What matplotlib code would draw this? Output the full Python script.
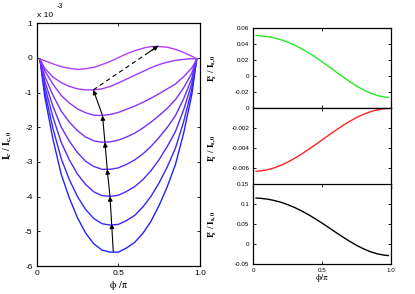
import numpy as np
import matplotlib
matplotlib.use("Agg")
import matplotlib.pyplot as plt
from matplotlib.colors import to_rgb

plt.rcParams['font.family'] = ['Liberation Sans', 'DejaVu Sans']
plt.rcParams['mathtext.fontset'] = 'stix'

# phase phi/pi where the curves are sampled
phi = [0.02, 0.05, 0.10, 0.15, 0.20, 0.25, 0.30, 0.35, 0.40, 0.45, 0.50,
       0.55, 0.60, 0.65, 0.70, 0.75, 0.80, 0.85, 0.90, 0.95, 0.98]

# charge current I_c / I_c,0 (units of 1e-3), from deepest to flattest curve
ic_1 = [-0.04, -1.13, -2.35, -3.35, -4.04, -4.61, -5.05, -5.36, -5.54, -5.60, -5.60,
        -5.48, -5.32, -5.06, -4.71, -4.25, -3.71, -3.07, -2.17, -1.06, -0.04]
ic_2 = [-0.04, -0.98, -2.04, -2.90, -3.51, -4.00, -4.37, -4.63, -4.78, -4.82, -4.80,
        -4.69, -4.54, -4.30, -3.99, -3.60, -3.14, -2.60, -1.84, -0.91, -0.04]
ic_3 = [-0.04, -0.83, -1.71, -2.43, -2.94, -3.35, -3.65, -3.86, -3.97, -3.99, -3.96,
        -3.85, -3.71, -3.51, -3.25, -2.93, -2.55, -2.12, -1.50, -0.74, -0.04]
ic_4 = [-0.04, -0.68, -1.40, -1.99, -2.40, -2.73, -2.98, -3.13, -3.21, -3.21, -3.17,
        -3.07, -2.94, -2.77, -2.55, -2.29, -2.00, -1.66, -1.18, -0.59, -0.04]
ic_5 = [-0.04, -0.53, -1.08, -1.53, -1.85, -2.10, -2.28, -2.39, -2.43, -2.42, -2.37,
        -2.28, -2.17, -2.02, -1.85, -1.66, -1.45, -1.20, -0.86, -0.44, -0.04]
ic_6 = [-0.04, -0.37, -0.76, -1.08, -1.30, -1.47, -1.58, -1.65, -1.66, -1.63, -1.57,
        -1.48, -1.39, -1.28, -1.16, -1.03, -0.89, -0.75, -0.54, -0.29, -0.04]
ic_7 = [-0.04, -0.30, -0.55, -0.71, -0.82, -0.89, -0.92, -0.92, -0.89, -0.82, -0.72,
        -0.61, -0.50, -0.39, -0.28, -0.19, -0.12, -0.07, -0.04, -0.02, -0.03]
ic_8 = [-0.03, -0.08, -0.17, -0.25, -0.30, -0.33, -0.31, -0.27, -0.19, -0.10, 0.01,
        0.12, 0.21, 0.28, 0.33, 0.33, 0.31, 0.25, 0.16, 0.05, -0.02]
ic_curves = [ic_1, ic_2, ic_3, ic_4, ic_5, ic_6, ic_7, ic_8]

# minima followed by the arrows (solid), then the dashed one to the last maximum
arrow_x = [0.469, 0.459, 0.449, 0.432, 0.418, 0.403, 0.347]
arrow_y = [-5.58, -4.78, -3.99, -3.21, -2.43, -1.66, -0.92]
dash_end = (0.745, 0.35)

# spin current components I_s / I_s,0
isx = [0.0505, 0.0502, 0.0492, 0.0475, 0.0452, 0.0421, 0.0384, 0.0340, 0.0290, 0.0235, 0.0176,
       0.0114, 0.0051, -0.0012, -0.0072, -0.0127, -0.0175, -0.0215, -0.0245, -0.0263, -0.0269]
isy = [-0.00629, -0.00626, -0.00615, -0.00596, -0.00570, -0.00538, -0.00500, -0.00458, -0.00412,
       -0.00364, -0.00315, -0.00266, -0.00218, -0.00172, -0.00130, -0.00092, -0.00060, -0.00034,
       -0.00015, -0.00004, -0.00001]
isz = [0.1149, 0.1143, 0.1123, 0.1090, 0.1044, 0.0984, 0.0912, 0.0828, 0.0734, 0.0630, 0.0520,
       0.0405, 0.0289, 0.0175, 0.0066, -0.0034, -0.0121, -0.0193, -0.0246, -0.0279, -0.0288]

left_yticks = [-6, -5, -4, -3, -2, -1, 0, 1]
x_ticks = [0, 0.5, 1.0]
x_ticklabels = ['0', '0.5', '1.0']
isx_ticks = [-0.02, 0, 0.02, 0.04, 0.06]
isx_labels = ['-0.02', '0', '0.02', '0.04', '0.06']
isy_ticks = [-0.006, -0.004, -0.002, 0]
isy_labels = ['-0.006', '-0.004', '-0.002', '0']
isz_ticks = [-0.05, 0, 0.05, 0.1, 0.15]
isz_labels = ['-0.05', '0', '0.05', '0.1', '0.15']


def style(ax, fs):
    ax.tick_params(direction='in', top=True, right=True, length=2.5, width=0.6,
                   labelsize=fs, pad=3)
    for s in ax.spines.values():
        s.set_linewidth(0.9)


fig = plt.figure(figsize=(4.15, 2.94), dpi=100)

# ---------------- left panel ----------------
ax = fig.add_axes([0.0884, 0.0952, 0.3934, 0.8255])
c0 = np.array(to_rgb('#2222ff'))
c1 = np.array(to_rgb('#b43cff'))
for k, ic in enumerate(ic_curves):
    col = c0 + (c1 - c0) * k / (len(ic_curves) - 1)
    ax.plot(phi, ic, color=col, lw=1.0)

for i in range(len(arrow_x) - 1):
    ax.annotate('', xy=(arrow_x[i+1], arrow_y[i+1]), xytext=(arrow_x[i], arrow_y[i]),
                arrowprops=dict(arrowstyle='-|>', color='k', lw=0.8,
                                mutation_scale=6.5, shrinkA=0, shrinkB=0))
# dashed arrow
ax.plot([arrow_x[-1], dash_end[0]], [arrow_y[-1], dash_end[1]], color='k', lw=0.8,
        ls=(0, (4, 3)))
tail = (arrow_x[-1] + 0.85*(dash_end[0] - arrow_x[-1]), arrow_y[-1] + 0.85*(dash_end[1] - arrow_y[-1]))
ax.annotate('', xy=dash_end, xytext=tail,
            arrowprops=dict(arrowstyle='-|>', color='k', lw=0.8,
                            mutation_scale=6.5, shrinkA=0, shrinkB=0))

ax.set_xlim(0, 1)
ax.set_ylim(-6, 1)
ax.set_xticks(x_ticks)
ax.set_xticklabels(x_ticklabels)
ax.set_yticks(left_yticks)
ax.set_yticklabels([str(v) for v in left_yticks])
style(ax, 6)
ax.set_ylabel(r'$\mathbf{I}_{\mathbf{c}}\ /\ \mathbf{I}_{\mathbf{c,0}}$', fontsize=7)
ax.yaxis.set_label_coords(-0.135, 0.5)
ax.set_xlabel('ϕ /π', fontsize=7.5, family='STIXGeneral')
ax.xaxis.set_label_coords(0.5, -0.06)
fig.text(37/415, 1 - 19/294, 'x 10', fontsize=6, ha='left', va='bottom')
fig.text(57/415, 1 - 10/294, '-3', fontsize=5, ha='left', va='bottom')

# ---------------- right panels ----------------
h = 80/294
ax1 = fig.add_axes([0.6104, 0.633, 0.332, h])
ax2 = fig.add_axes([0.6104, 0.3595, 0.332, h])
ax3 = fig.add_axes([0.6104, 0.102, 0.332, h])

ax1.plot(phi, isx, color='#22ee22', lw=1.0)
ax2.plot(phi, isy, color='#ff2222', lw=1.0)
ax3.plot(phi, isz, color='k', lw=1.0)

ax1.set_ylim(-0.04, 0.06)
ax1.set_yticks(isx_ticks)
ax1.set_yticklabels(isx_labels)
ax2.set_ylim(-0.008, 0)
ax2.set_yticks(isy_ticks)
ax2.set_yticklabels(isy_labels)
ax3.set_ylim(-0.05, 0.15)
ax3.set_yticks(isz_ticks)
ax3.set_yticklabels(isz_labels)

ylabels = [r'$\mathbf{I}^{\mathbf{x}}_{\mathbf{s}}\ /\ \mathbf{I}_{\mathbf{s,0}}$',
           r'$\mathbf{I}^{\mathbf{y}}_{\mathbf{s}}\ /\ \mathbf{I}_{\mathbf{s,0}}$',
           r'$\mathbf{I}^{\mathbf{z}}_{\mathbf{s}}\ /\ \mathbf{I}_{\mathbf{s,0}}$']
for a, lab in zip([ax1, ax2, ax3], ylabels):
    a.set_xlim(0, 1)
    a.set_xticks(x_ticks)
    style(a, 4.5)
    a.set_ylabel(lab, fontsize=6.5)
    a.yaxis.set_label_coords(-0.25, 0.5)
ax1.set_xticklabels([])
ax2.set_xticklabels([])
ax3.set_xticklabels(x_ticklabels)
ax3.set_xlabel('ϕ/π', fontsize=6.5, family='STIXGeneral')
ax3.xaxis.set_label_coords(0.5, -0.12)

fig.savefig("out.png", dpi=100)
